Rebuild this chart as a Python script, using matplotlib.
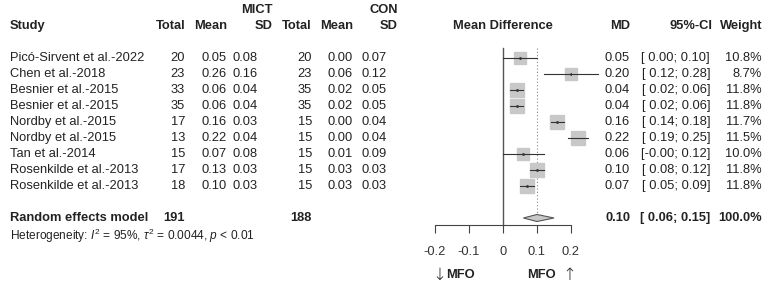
import matplotlib.pyplot as plt
import matplotlib.transforms as mtransforms
import numpy as np

plt.rcParams['font.family'] = ['Liberation Sans', 'DejaVu Sans']
plt.rcParams['mathtext.fontset'] = 'custom'
plt.rcParams['mathtext.rm'] = 'Liberation Sans'
plt.rcParams['mathtext.it'] = 'Liberation Sans:italic'

# Study data
studies = ["Picó-Sirvent et al.-2022", "Chen et al.-2018", "Besnier et al.-2015",
           "Besnier et al.-2015", "Nordby et al.-2015", "Nordby et al.-2015",
           "Tan et al.-2014", "Rosenkilde et al.-2013", "Rosenkilde et al.-2013"]
mict_total = [20, 23, 33, 35, 17, 13, 15, 17, 18]
mict_mean = [0.05, 0.26, 0.06, 0.06, 0.16, 0.22, 0.07, 0.13, 0.10]
mict_sd = [0.08, 0.16, 0.04, 0.04, 0.03, 0.04, 0.08, 0.03, 0.03]
con_total = [20, 23, 35, 35, 15, 15, 15, 15, 15]
con_mean = [0.00, 0.06, 0.02, 0.02, 0.00, 0.00, 0.01, 0.03, 0.03]
con_sd = [0.07, 0.12, 0.05, 0.05, 0.04, 0.04, 0.09, 0.03, 0.03]
md = [0.05, 0.20, 0.04, 0.04, 0.16, 0.22, 0.06, 0.10, 0.07]
ci_lo = [0.00, 0.12, 0.02, 0.02, 0.14, 0.19, -0.0, 0.08, 0.05]
ci_hi = [0.10, 0.28, 0.06, 0.06, 0.18, 0.25, 0.12, 0.12, 0.09]
weight = [10.8, 8.7, 11.8, 11.8, 11.7, 11.5, 10.0, 11.8, 11.8]

# Pooled estimate
pooled_md, pooled_lo, pooled_hi = 0.10, 0.06, 0.15
pooled_total_mict, pooled_total_con = 191, 188
ticks = [-0.2, -0.1, 0, 0.1, 0.2]
tick_labels = ["-0.2", "-0.1", "0", "0.1", "0.2"]

W, H = 765, 285
fig = plt.figure(figsize=(W / 100, H / 100), dpi=100)
# forest axes: -0.2 at px 435, 0.2 at px 571; rows at px 58 + 16*i
ax = fig.add_axes([435 / W, 0, 136 / W, 1])
ax.set_xlim(-0.2, 0.2)
ax.set_ylim((H - 58) / 16, -58 / 16)
for s in ['top', 'right', 'left']:
    ax.spines[s].set_visible(False)
axis_row = (225 - 58) / 16
ax.spines['bottom'].set_position(('data', axis_row))
ax.spines['bottom'].set_bounds(-0.2, 0.2)
ax.spines['bottom'].set_color('#444444')
ax.spines['bottom'].set_linewidth(0.8)
ax.set_xticks(ticks)
ax.set_xticklabels(tick_labels, fontsize=9.3, color='#333333')
ax.tick_params(axis='x', length=6, width=0.8, color='#444444', pad=9)
ax.set_yticks([])
ax.patch.set_visible(False)

rows = np.arange(len(studies))
top_row = (48 - 58) / 16
ax.plot([0, 0], [top_row, axis_row], color='#555555', lw=1.0, zorder=1)
ax.plot([pooled_md, pooled_md], [top_row, 9.75], color='#888888', lw=0.8,
        linestyle=(0, (1, 2)), zorder=1)

for i in rows:
    ax.plot([ci_lo[i], ci_hi[i]], [i, i], color='#333333', lw=0.8, zorder=3,
            clip_on=False)
    ms = 9.6 * np.sqrt(weight[i] / 11.8)
    ax.plot(md[i], i, marker='s', ms=ms, color='#c8c8c8', mec='#c8c8c8',
            zorder=2, clip_on=False)
    ax.plot(md[i], i, marker='.', ms=2, color='#333333', zorder=4)

hd = 0.22
diamond = plt.Polygon([[pooled_lo, 10], [pooled_md, 10 - hd], [pooled_hi, 10],
                       [pooled_md, 10 + hd]], closed=True,
                      facecolor='#c8c8c8', edgecolor='#555555', lw=0.8, zorder=3)
ax.add_patch(diamond)

# text columns in figure px (x) and row units (y)
tr = mtransforms.blended_transform_factory(fig.transFigure, ax.transData)
fs = 9.3
tc = '#222222'

def put(px, row, s, ha='right', bold=False, size=fs):
    fig.text(px / W, row, s, transform=tr, ha=ha, va='center', fontsize=size,
             color=tc, fontweight='bold' if bold else 'normal')

# headers
put(273, -3, "MICT", bold=True)
put(398, -3, "CON", bold=True)
hr = (26 - 58) / 16
put(10, hr, "Study", ha='left', bold=True)
put(185, hr, "Total", bold=True)
put(227, hr, "Mean", bold=True)
put(273, hr, "SD", bold=True)
put(312, hr, "Total", bold=True)
put(353, hr, "Mean", bold=True)
put(398, hr, "SD", bold=True)
put(503, hr, "Mean Difference", ha='center', bold=True)
put(630, hr, "MD", bold=True)
put(712, hr, "95%-CI", bold=True)
put(762, hr, "Weight", bold=True)

for i in rows:
    put(10, i, studies[i], ha='left')
    put(185, i, f"{mict_total[i]}")
    put(227, i, f"{mict_mean[i]:.2f}")
    put(258, i, f"{mict_sd[i]:.2f}")
    put(312, i, f"{con_total[i]}")
    put(353, i, f"{con_mean[i]:.2f}")
    put(387, i, f"{con_sd[i]:.2f}")
    put(630, i, f"{md[i]:.2f}")
    lo = f"{ci_lo[i]:.2f}"
    if not lo.startswith('-'):
        lo = ' ' + lo
    put(710, i, f"[{lo}; {ci_hi[i]:.2f}]")
    put(762, i, f"{weight[i]:.1f}%")

put(10, 10, "Random effects model", ha='left', bold=True)
put(185, 10, f"{pooled_total_mict}", bold=True)
put(312, 10, f"{pooled_total_con}", bold=True)
put(630, 10, f"{pooled_md:.2f}", bold=True)
put(710, 10, f"[ {pooled_lo:.2f}; {pooled_hi:.2f}]", bold=True)
put(762, 10, "100.0%", bold=True)
put(10, (236 - 58) / 16,
    r"Heterogeneity: $I^2$ = 95%, $\tau^2$ = 0.0044, $p$ < 0.01",
    ha='left', size=8.6)

mfo_row = (275 - 58) / 16
fig.text(432 / W, mfo_row, "↓", transform=tr, ha='left', va='center',
         fontsize=12, color=tc, family='DejaVu Sans', fontweight='light')
fig.text(446 / W, mfo_row, "MFO", transform=tr, ha='left', va='center',
         fontsize=fs, color=tc, fontweight='bold')
fig.text(527 / W, mfo_row, "MFO", transform=tr, ha='left', va='center',
         fontsize=fs, color=tc, fontweight='bold')
fig.text(576 / W, mfo_row, "↑", transform=tr, ha='right', va='center',
         fontsize=12, color=tc, family='DejaVu Sans', fontweight='light')

fig.savefig("out.png", dpi=100)
